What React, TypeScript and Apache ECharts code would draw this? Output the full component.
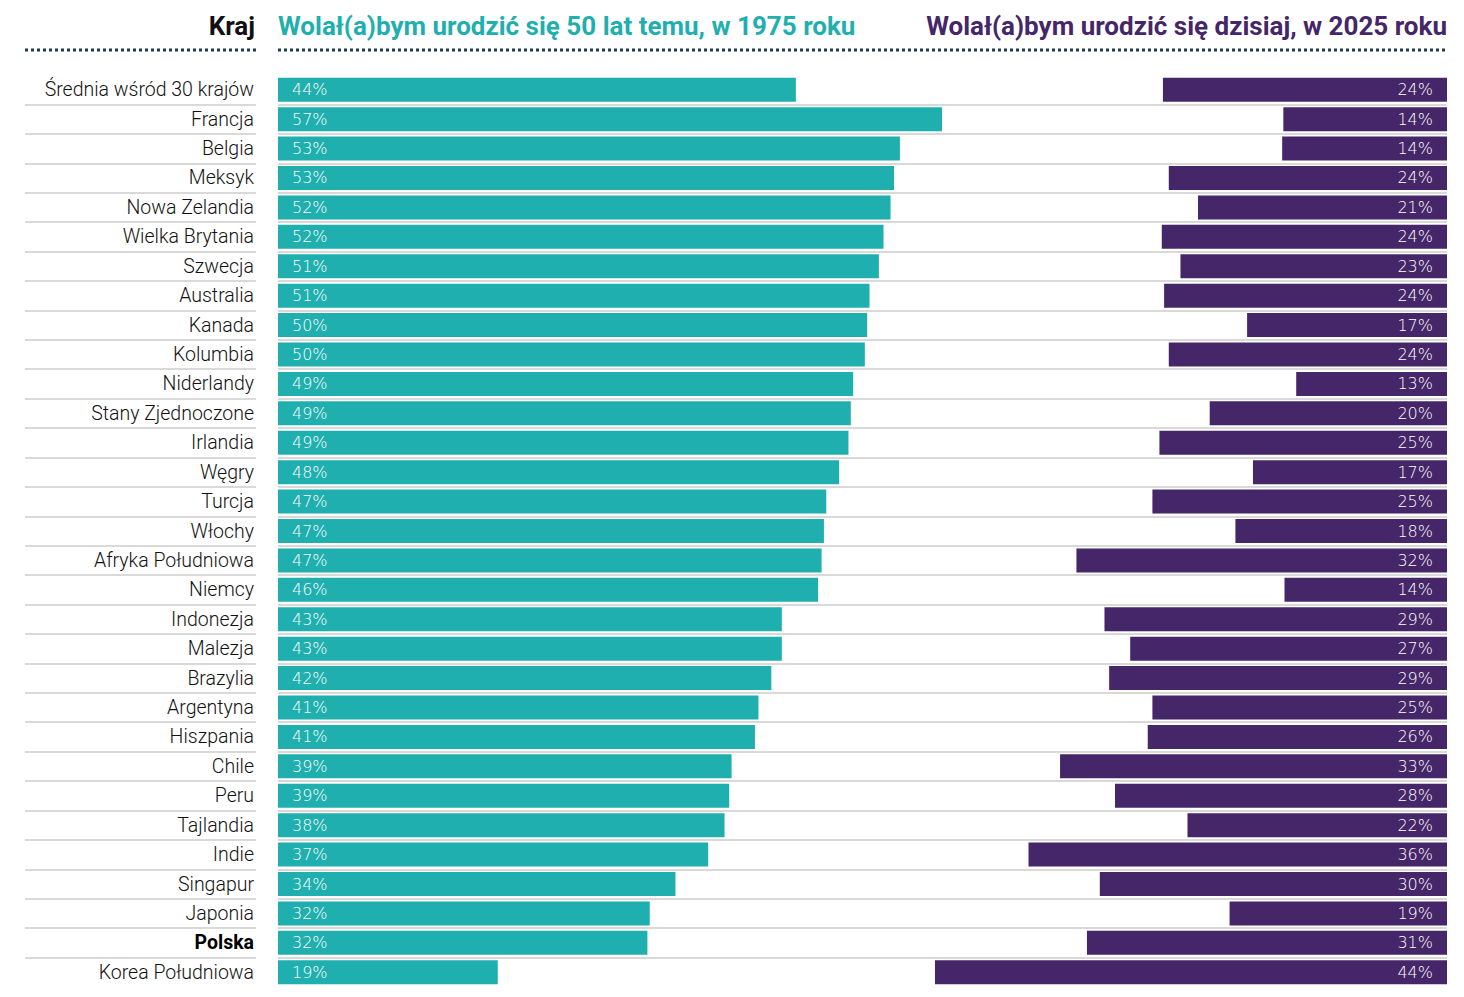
import React, { useEffect, useRef } from "react";
import * as echarts from "echarts";

const countries = [
  "Średnia wśród 30 krajów", "Francja", "Belgia", "Meksyk", "Nowa Zelandia", "Wielka Brytania",
  "Szwecja", "Australia", "Kanada", "Kolumbia", "Niderlandy", "Stany Zjednoczone", "Irlandia",
  "Węgry", "Turcja", "Włochy", "Afryka Południowa", "Niemcy", "Indonezja", "Malezja", "Brazylia",
  "Argentyna", "Hiszpania", "Chile", "Peru", "Tajlandia", "Indie", "Singapur", "Japonia",
  "Polska", "Korea Południowa",
];

// % who would rather have been born 50 years ago (1975)
const born1975 = [
  44.3, 56.8, 53.2, 52.7, 52.4, 51.8, 51.4, 50.6, 50.4, 50.2, 49.2, 49.0, 48.8,
  48.0, 46.9, 46.7, 46.5, 46.2, 43.1, 43.1, 42.2, 41.1, 40.8, 38.8, 38.6, 38.2,
  36.8, 34.0, 31.8, 31.6, 18.8,
];

// % who would rather be born today (2025)
const born2025 = [
  24.3, 14.0, 14.1, 23.8, 21.3, 24.4, 22.8, 24.2, 17.1, 23.8, 12.9, 20.3, 24.6,
  16.6, 25.2, 18.1, 31.7, 13.9, 29.3, 27.1, 28.9, 25.2, 25.6, 33.1, 28.4, 22.2,
  35.8, 29.7, 18.6, 30.8, 43.8,
];

const headerCountry = "Kraj";
const header1975 = "Wolał(a)bym urodzić się 50 lat temu, w 1975 roku";
const header2025 = "Wolał(a)bym urodzić się dzisiaj, w 2025 roku";
const boldCountry = "Polska";

const TEAL = "#1FAFAE";
const PURPLE = "#452668";
const FONT = "Roboto, 'Noto Sans', sans-serif";
const NUM_FONT = "'DejaVu Sans', Roboto, sans-serif";

export default function App() {
  const ref = useRef<HTMLDivElement>(null);

  useEffect(() => {
    if (!ref.current) return;
    const chart = echarts.init(ref.current, null, { renderer: "svg" });
    const rest = born1975.map((a, i) => +(100 - a - born2025[i]).toFixed(2));
    const top = 75;
    const height = 912;

    const valueLabel = {
      show: true,
      distance: 14,
      color: "#ffffff",
      fontSize: 16,
      fontWeight: 200,
      fontFamily: NUM_FONT,
      formatter: (p: any) => `${Math.round(p.value)}%`,
    };

    chart.setOption({
      animation: false,
      backgroundColor: "#ffffff",
      textStyle: { fontFamily: FONT },
      grid: [
        { left: 278, right: 17, top, height, containLabel: false },
        { left: 25, width: 231, top, height, containLabel: false },
      ],
      xAxis: [
        { type: "value", gridIndex: 0, min: 0, max: 100, show: false },
        { type: "value", gridIndex: 1, min: 0, max: 100, show: false },
      ],
      yAxis: [
        {
          type: "category",
          gridIndex: 0,
          data: countries,
          inverse: true,
          axisLine: { show: false },
          axisTick: { show: false },
          axisLabel: {
            margin: 24,
            fontSize: 19.5,
            fontWeight: 300,
            color: "#111111",
            fontFamily: FONT,
            formatter: (v: string) => (v === boldCountry ? `{b|${v}}` : v),
            rich: {
              b: { fontWeight: "bold", fontSize: 19.5, color: "#000", fontFamily: FONT },
            },
          },
          splitLine: {
            show: true,
            showMinLine: false,
            showMaxLine: false,
            lineStyle: { color: "#cccccc", width: 1.5 },
          },
        },
        {
          type: "category",
          gridIndex: 1,
          data: countries,
          inverse: true,
          axisLine: { show: false },
          axisTick: { show: false },
          axisLabel: { show: false },
          splitLine: {
            show: true,
            showMinLine: false,
            showMaxLine: false,
            lineStyle: { color: "#cccccc", width: 1.5 },
          },
        },
      ],
      series: [
        {
          type: "bar",
          name: "1975",
          stack: "all",
          data: born1975,
          barWidth: 24,
          itemStyle: { color: TEAL },
          label: { ...valueLabel, position: "insideLeft" },
          silent: true,
        },
        {
          type: "bar",
          name: "rest",
          stack: "all",
          data: rest,
          barWidth: 24,
          itemStyle: { color: "rgba(0,0,0,0)" },
          silent: true,
        },
        {
          type: "bar",
          name: "2025",
          stack: "all",
          data: born2025,
          barWidth: 24,
          itemStyle: { color: PURPLE },
          label: { ...valueLabel, position: "insideRight" },
          silent: true,
        },
      ],
      graphic: [
        {
          type: "text",
          x: 255,
          y: 26,
          style: {
            text: headerCountry,
            align: "right",
            verticalAlign: "middle",
            font: `bold 26px ${FONT}`,
            fill: "#111111",
          },
        },
        {
          type: "text",
          x: 278,
          y: 26,
          style: {
            text: header1975,
            align: "left",
            verticalAlign: "middle",
            font: `bold 26px ${FONT}`,
            fill: TEAL,
          },
        },
        {
          type: "text",
          x: 1447,
          y: 26,
          style: {
            text: header2025,
            align: "right",
            verticalAlign: "middle",
            font: `bold 26px ${FONT}`,
            fill: PURPLE,
          },
        },
        {
          type: "line",
          shape: { x1: 25, y1: 50, x2: 256, y2: 50 },
          style: { stroke: "#1d3c4e", lineWidth: 3, lineDash: [3, 3] },
        },
        {
          type: "line",
          shape: { x1: 278, y1: 50, x2: 1447, y2: 50 },
          style: { stroke: "#1d3c4e", lineWidth: 3, lineDash: [3, 3] },
        },
      ],
    });

    return () => chart.dispose();
  }, []);

  return (
    <div
      ref={ref}
      style={{ position: "fixed", left: 0, top: 0, width: 1464, height: 997, background: "#fff" }}
    />
  );
}
